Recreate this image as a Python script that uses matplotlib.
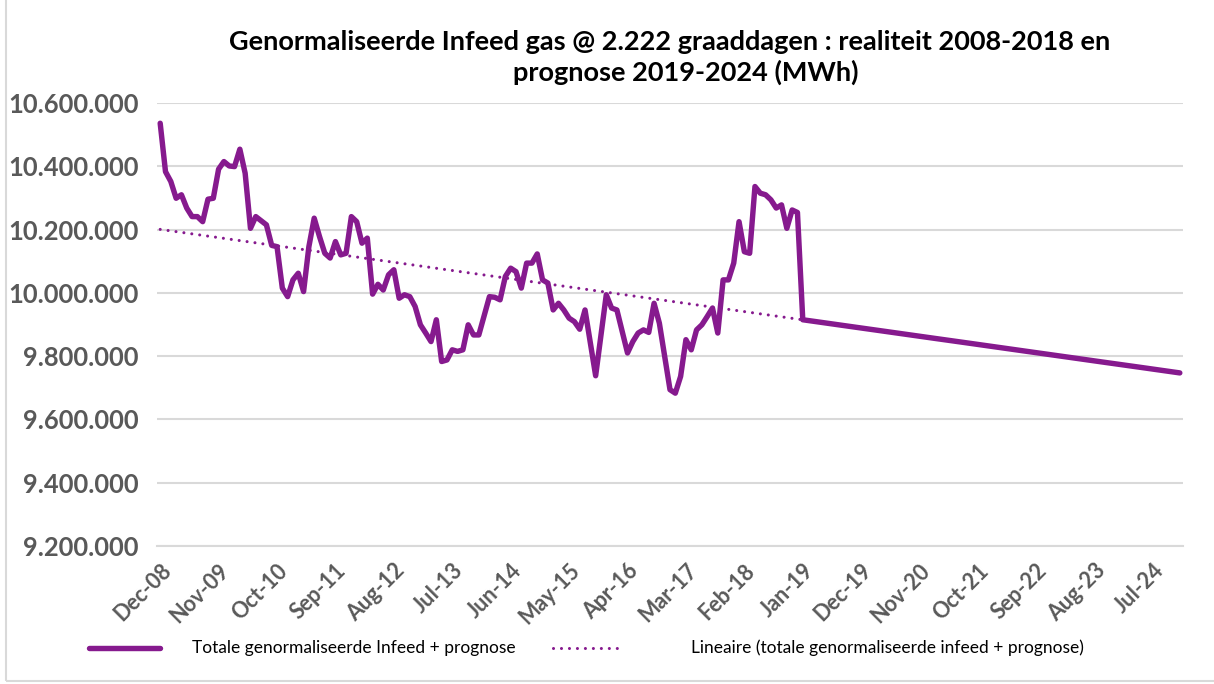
import numpy as np
import matplotlib
matplotlib.use("Agg")
import matplotlib.pyplot as plt
from matplotlib.patches import Rectangle
from matplotlib.lines import Line2D
from matplotlib.ticker import FuncFormatter
from matplotlib.transforms import ScaledTranslation

plt.rcParams['font.family'] = ['Lato', 'DejaVu Sans']

# maandelijkse genormaliseerde infeed (x 1000 MWh), Dec-08 .. Dec-18
realiteit_k = [
    10536, 10383, 10352, 10299, 10310, 10268, 10241, 10241, 10225, 10296,
    10299, 10391, 10415, 10401, 10399, 10454, 10378, 10204, 10241, 10228,
    10215, 10150, 10146, 10015, 9988, 10041, 10062, 10004, 10146, 10236,
    10178, 10125, 10110, 10162, 10120, 10125, 10241, 10225, 10157, 10173,
    9996, 10027, 10009, 10057, 10073, 9983, 9994, 9988, 9957, 9899,
    9873, 9846, 9915, 9783, 9788, 9820, 9815, 9820, 9899, 9867,
    9867, 9928, 9988, 9986, 9978, 10052, 10078, 10067, 10015, 10094,
    10094, 10123, 10041, 10031, 9946, 9967, 9946, 9920, 9909, 9885,
    9946, 9842, 9738, 9866, 9994, 9952, 9946, 9878, 9810, 9846,
    9873, 9883, 9875, 9967, 9904, 9799, 9694, 9683, 9736, 9852,
    9820, 9883, 9899, 9925, 9952, 9873, 10041, 10041, 10094, 10225,
    10130, 10125, 10336, 10315, 10310, 10294, 10268, 10278, 10204, 10262,
    10254,
]

# prognose (x 1000 MWh), Jan-19 .. Dec-24
prognose_k = [
    9915.0, 9912.6, 9910.3, 9907.9, 9905.5, 9903.2, 9900.8, 9898.4, 9896.1, 9893.7,
    9891.3, 9889.0, 9886.6, 9884.2, 9881.9, 9879.5, 9877.1, 9874.8, 9872.4, 9870.0,
    9867.7, 9865.3, 9862.9, 9860.6, 9858.2, 9855.8, 9853.5, 9851.1, 9848.8, 9846.4,
    9844.0, 9841.7, 9839.3, 9836.9, 9834.6, 9832.2, 9829.8, 9827.5, 9825.1, 9822.7,
    9820.4, 9818.0, 9815.6, 9813.3, 9810.9, 9808.5, 9806.2, 9803.8, 9801.4, 9799.1,
    9796.7, 9794.3, 9792.0, 9789.6, 9787.2, 9784.9, 9782.5, 9780.1, 9777.8, 9775.4,
    9773.0, 9770.7, 9768.3, 9766.0, 9763.6, 9761.2, 9758.9, 9756.5, 9754.1, 9751.8,
    9749.4, 9747.0,
]

tick_labels = ['Dec-08', 'Nov-09', 'Oct-10', 'Sep-11', 'Aug-12', 'Jul-13', 'Jun-14',
               'May-15', 'Apr-16', 'Mar-17', 'Feb-18', 'Jan-19', 'Dec-19', 'Nov-20',
               'Oct-21', 'Sep-22', 'Aug-23', 'Jul-24']

y = np.array(realiteit_k + prognose_k) * 1000
x = np.arange(len(y))

# lineaire trendlijn zoals in Excel
coef = np.polyfit(x, y, 1)
trend = np.polyval(coef, x)

paars = '#861A8E'
grijs = '#595959'
W, H = 1214, 684

fig = plt.figure(figsize=(12.14, 6.84), dpi=100)
ax = fig.add_axes([157 / W, 1 - 546 / H, (1183 - 157) / W, (546 - 103) / H])

ax.plot(x, y, color=paars, lw=3.9, solid_joinstyle='round', solid_capstyle='round', zorder=3)
ax.plot(x, trend, color=paars, lw=2.2, linestyle=(0, (0.01, 2.6)),
        dash_capstyle='round', zorder=2)

ax.set_xlim(-0.6, len(y) - 0.4)
ax.set_ylim(9200000, 10600000)
ax.set_yticks(np.arange(9200000, 10600001, 200000))
ax.yaxis.set_major_formatter(FuncFormatter(lambda v, p: f"{int(v):,}".replace(',', '.')))
ax.set_xticks(np.arange(0, len(y), 11))
ax.set_xticklabels(tick_labels, rotation=45, ha='right', va='top', rotation_mode='anchor')
shift = ScaledTranslation(5 / 100, -2 / 100, fig.dpi_scale_trans)
for t in ax.get_xticklabels():
    t.set_transform(t.get_transform() + shift)

ax.grid(axis='y', color='#D9D9D9', lw=1.5)
ax.set_axisbelow(True)
for s in ['left', 'right', 'top']:
    ax.spines[s].set_visible(False)
ax.spines['bottom'].set_color('#D9D9D9')
ax.spines['bottom'].set_linewidth(1.5)
ax.tick_params(axis='both', length=0, colors=grijs)
ax.tick_params(axis='y', labelsize=18.4, pad=13)
ax.tick_params(axis='x', labelsize=15.5, pad=10)
for t in ax.get_yticklabels() + ax.get_xticklabels():
    t.set_fontweight('bold')

# titel (twee regels, zoals Excel ze afbreekt)
fig.text(670 / W, 1 - 42 / H,
         'Genormaliseerde Infeed gas @ 2.222 graaddagen : realiteit 2008-2018 en',
         ha='center', va='center', fontsize=19.5, fontweight='bold', color='black')
fig.text(686 / W, 1 - 72 / H, 'prognose 2019-2024 (MWh)',
         ha='center', va='center', fontsize=19.5, fontweight='bold', color='black')

# legenda onder de grafiek
ly = 1 - 648 / H
fig.add_artist(Line2D([89 / W, 160 / W], [ly, ly], color=paars, lw=3.9,
                      solid_capstyle='round', transform=fig.transFigure))
fig.text(192 / W, ly, 'Totale genormaliseerde Infeed + prognose', ha='left', va='center',
         fontsize=12.5, color='black')
fig.add_artist(Line2D([553 / W, 618 / W], [ly, ly], color=paars, lw=2.2,
                      linestyle=(0, (0.01, 2.6)), dash_capstyle='round',
                      transform=fig.transFigure))
fig.text(691 / W, ly, 'Lineaire (totale genormaliseerde infeed + prognose)', ha='left',
         va='center', fontsize=12.5, color='black')

fig.patches.append(Rectangle((6 / W, 3 / H), 1.2, 1.2, transform=fig.transFigure,
                             fill=False, edgecolor='#D9D9D9', lw=1.5))

fig.savefig('out.png', dpi=100)
